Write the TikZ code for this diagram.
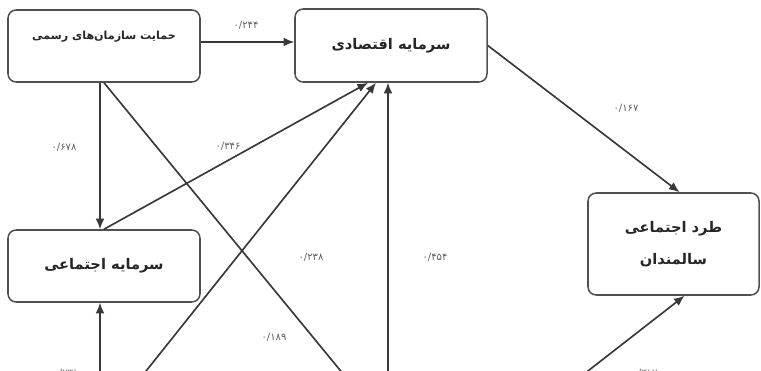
\documentclass[tikz,border=0pt]{standalone}
\usepackage{fontspec}
\newfontfamily\fa[Script=Arabic]{DejaVu Sans}
\TeXXeTstate=1
\usetikzlibrary{arrows.meta,calc}
\definecolor{boxc}{HTML}{505050}
\definecolor{linec}{HTML}{383838}
\definecolor{lblc}{HTML}{5E5E5E}
\begin{document}
\begin{tikzpicture}[x=0.03cm,y=-0.03cm,
  box/.style={draw=boxc,line width=1.3pt,rounded corners=7pt,fill=white,inner sep=0pt,
    minimum width=5.76cm,minimum height=2.16cm},
  arr/.style={draw=linec,line width=1.4pt,-{Latex[length=9pt,width=7.5pt]}},
  lbl/.style={text=lblc,font=\fa\fontsize{8.5}{10}\selectfont,inner sep=0pt},
  ttl/.style={font=\fa\bfseries\fontsize{12.5}{14}\selectfont,text=black!85},
  ttls/.style={font=\fa\bfseries\fontsize{9.5}{11}\selectfont,text=black!85}]
\useasboundingbox (0,0) rectangle (761,371);
\clip (0,0) rectangle (761,371);
\fill[white] (0,0) rectangle (761,371);

% boxes
\node[box] (A) at (104,46) {};
\node[ttls,inner sep=0pt] (At) at (104,37) {\beginR حمایت سازمان‌های رسمی\endR};
\node[box,ttl,minimum height=2.19cm] (B) at (391,45.5) {\beginR سرمایه اقتصادی\endR};
\node[box,ttl] (C) at (104,266) {\beginR سرمایه اجتماعی\endR};
\node[box,ttl,minimum width=5.13cm,minimum height=3.06cm,align=center] (D) at (673.5,244)
  {\beginR طرد اجتماعی\endR\\[13pt]\beginR سالمندان\endR};

% free ends below the visible part
\coordinate (s1) at (100,420);
\coordinate (s2) at (107,420);
\coordinate (s3) at (388,420);
\coordinate (s4) at (525,420);
\coordinate (t1) at (381,420);

% connectors
\draw[arr] ($(A.east)+(0,-4)$) coordinate (ab) -- (ab -| B.west);
\draw[arr] ($(A.south)+(-4,0)$) -- ($(C.north)+(-4,0)$);
\draw[arr] (A.south) -- (t1);
\draw[arr] (C.north) -- ($(B.south)+(-23,0)$);
\draw[arr] (s2) -- ($(B.south)+(-15,0)$);
\draw[arr] (s3) -- ($(B.south)+(-3,0)$);
\draw[arr] (B.east) -- ($(D.north)+(6,0)$);
\draw[arr] (s1) -- ($(C.south)+(-4,0)$);
\draw[arr] (s4) -- ($(D.south)+(11,0)$);

% labels
\node[lbl] (l1) at (246,25) {۰/۲۴۴};
\node[lbl] (l2) at (64,147) {۰/۶۷۸};
\node[lbl] (l3) at (228,146) {۰/۳۴۶};
\node[lbl] (l4) at (626,108) {۰/۱۶۷};
\node[lbl] (l5) at (311,257) {۰/۲۳۸};
\node[lbl] (l6) at (435,257) {۰/۴۵۴};
\node[lbl] (l7) at (274,337) {۰/۱۸۹};
\node[lbl] (l8) at (66,373) {۰/۲۳۱};
\node[lbl] (l9) at (645,373) {۰/۳۱۷};
\end{tikzpicture}
\end{document}
